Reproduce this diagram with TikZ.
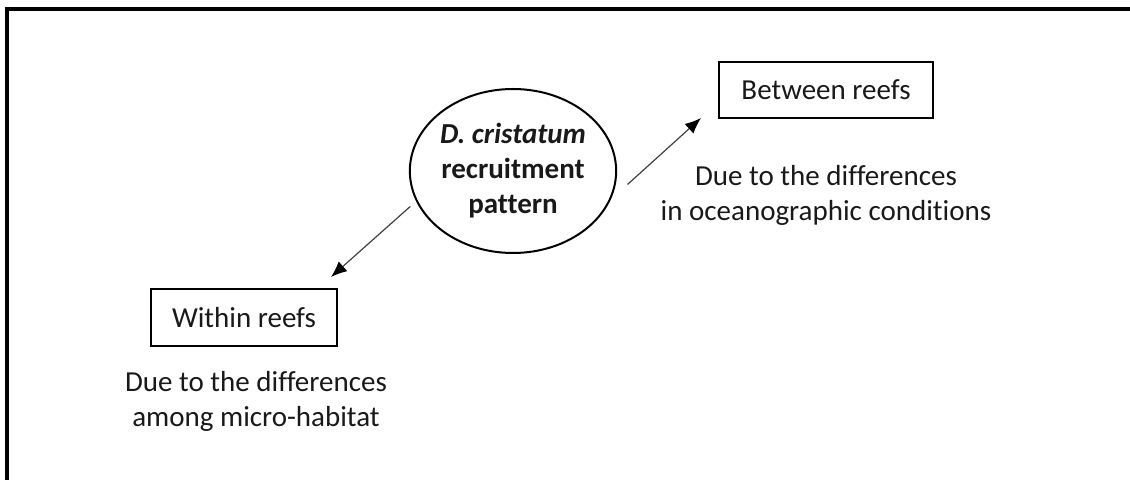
\documentclass[tikz,border=0pt]{standalone}
\usepackage{fontspec}
\setmainfont{Carlito}[Ligatures=NoCommon]
\usetikzlibrary{shapes.geometric,arrows.meta}

\begin{document}
\begin{tikzpicture}[
  x = 0.5pt, y = -0.5pt,
  % One unit is one pixel of the 1130 x 480 figure (sizes below in pt = px/2).
  txt/.style      = {font=\fontsize{14.5}{17.5}\selectfont, text=black!90},
  scalebox/.style = {txt, draw, line width=1pt, inner sep=0pt},
  hub/.style      = {txt, draw, ellipse, line width=1pt, inner sep=0pt,
                     minimum width=95pt, minimum height=82pt, align=center},
  note/.style     = {txt, align=center},
  link/.style     = {draw=black!75, line width=0.6pt,
                     -{Latex[length=8pt,width=6.5pt,color=black]}},
]
\useasboundingbox (0, 0) rectangle (1130, 480);

% --- frame, only the top and left sides show
\draw[line width=2pt] (7, 480) -- (7, 9) -- (1130, 9);

% --- centre
\node[hub] (pattern) at (513, 171)
  {\textbf{\textit{D. cristatum}}\\\textbf{recruitment}\\\textbf{pattern}};

% --- the two scales
\node[scalebox, minimum width=107pt, minimum height=28pt] (between) at (826, 90)
  {Between reefs};
\node[scalebox, minimum width=93pt, minimum height=28.5pt] (within) at (244, 317.5)
  {Within reefs};

\node[note] (betweennote) at (826, 195.5)
  {Due to the differences\\in oceanographic conditions};
\node[note] (withinnote) at (256, 401.5)
  {Due to the differences\\among micro-habitat};

% --- arrows
\draw[link] ([shift={(-8,1)}]pattern.200) -- ([shift={(-7,-11)}]within.north east);
\draw[link] ([shift={(12,-1)}]pattern.-8) -- ([shift={(-17,-1)}]between.south west);

\end{tikzpicture}
\end{document}
